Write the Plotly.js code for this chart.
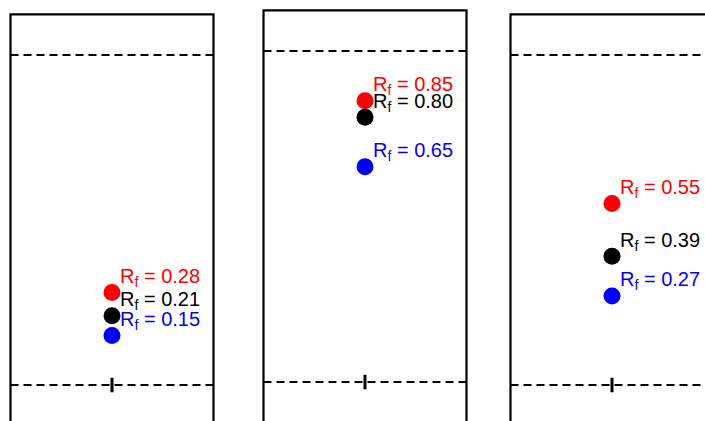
<!DOCTYPE html>
<html><head><meta charset="utf-8">
<script src="https://cdn.plot.ly/plotly-3.0.1.min.js"></script>
<style>html,body{margin:0;padding:0;background:#fff}#chart{width:705px;height:421px}</style>
</head><body><div id="chart"></div>
<script>
// Data: three TLC lanes, Rf values for three compounds
const lanes = [1, 2, 3];
const seriesNames = ['red', 'black', 'blue'];
const seriesColors = ['#ff0000', '#000000', '#0000ff'];
const rfRed = [0.28, 0.85, 0.55];
const rfBlack = [0.21, 0.80, 0.39];
const rfBlue = [0.15, 0.65, 0.27];
const rfSeries = [rfRed, rfBlack, rfBlue];

// lane -> axes (middle plate is drawn slightly offset)
const laneXAxis = ['x', 'x2', 'x'];
const laneYAxis = ['y', 'y2', 'y'];

const traces = [];
const annotations = [];
rfSeries.forEach((vals, si) => {
  lanes.forEach((lane, li) => {
    traces.push({
      type: 'scatter', mode: 'markers',
      x: [lane], y: [vals[li]],
      xaxis: laneXAxis[li], yaxis: laneYAxis[li],
      marker: {size: 17, color: seriesColors[si]},
      cliponaxis: false,
      hoverinfo: 'skip', showlegend: false
    });
    annotations.push({
      xref: laneXAxis[li], yref: laneYAxis[li],
      x: lane, y: vals[li],
      text: 'R<sub>f</sub> = ' + vals[li].toFixed(2),
      showarrow: false, xanchor: 'left', yanchor: 'middle',
      xshift: 6, yshift: 15,
      font: {family: 'Liberation Sans, Arial, sans-serif', size: 20, color: seriesColors[si]}
    });
  });
});

const halfW = 0.406;
const plateTop = 1.123;
const shapes = [];
lanes.forEach((lane, li) => {
  const xr = laneXAxis[li], yr = laneYAxis[li];
  // plate outline (open at bottom, runs off the picture)
  shapes.push({type: 'path', xref: xr, yref: yr,
    path: `M ${lane - halfW},-0.3 L ${lane - halfW},${plateTop} L ${lane + halfW},${plateTop} L ${lane + halfW},-0.3`,
    line: {color: '#000', width: 2.2}});
  // solvent front (Rf = 1) and baseline (Rf = 0)
  [0, 1].forEach(v => shapes.push({type: 'line', xref: xr, yref: yr,
    x0: lane - halfW, x1: lane + halfW, y0: v, y1: v,
    line: {color: '#000', width: 2, dash: '8px,5px'}}));
  // origin tick
  shapes.push({type: 'line', xref: xr, yref: yr, x0: lane, x1: lane, y0: -0.022, y1: 0.022,
    line: {color: '#000', width: 3}});
});

const xr0 = [1 - 112 / 250, 1 + (705 - 112) / 250];
const layout = {
  width: 705, height: 421,
  margin: {l: 0, r: 0, t: 0, b: 0},
  paper_bgcolor: '#fff', plot_bgcolor: '#fff',
  showlegend: false,
  xaxis: {range: xr0, visible: false, fixedrange: true},
  xaxis2: {range: [xr0[0] - 3 / 250, xr0[1] - 3 / 250], visible: false, overlaying: 'x', fixedrange: true},
  yaxis: {range: [(385 - 421) / 330, 385 / 330], visible: false, fixedrange: true},
  yaxis2: {range: [(382 - 421) / 331, 382 / 331], visible: false, overlaying: 'y', fixedrange: true},
  shapes: shapes,
  annotations: annotations
};

Plotly.newPlot('chart', traces, layout, {displayModeBar: false, staticPlot: true});
</script></body></html>
